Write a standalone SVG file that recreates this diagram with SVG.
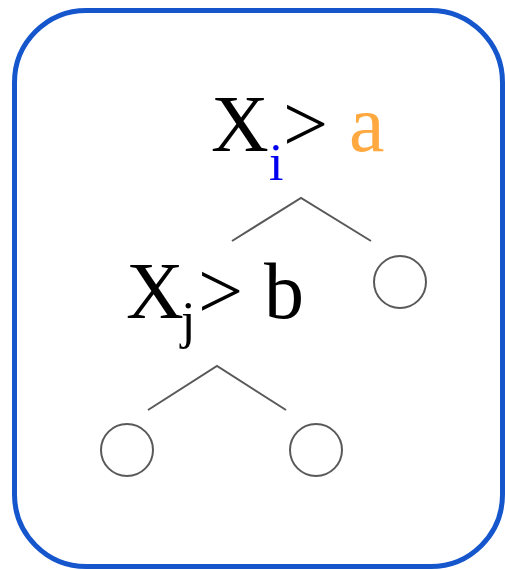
<svg xmlns="http://www.w3.org/2000/svg" width="505" height="570" viewBox="0 0 505 570">
<style>
.t{font-family:"Liberation Serif","Times New Roman",serif;font-size:80px;fill:#000}
.s{font-family:"Liberation Serif","Times New Roman",serif;font-size:52px}
.edge{stroke:#595959;stroke-width:2;fill:none}
.leaf{stroke:#595959;stroke-width:2;fill:#fff}
</style>
<rect x="14.5" y="10.5" width="488" height="556" rx="72" ry="72" fill="#fff" stroke="#1556cc" stroke-width="5"/>
<g id="connectors">
<polyline class="edge" points="232,241 301,198 371,241"/>
<polyline class="edge" points="148,410 217,366 286,410"/>
</g>
<g id="node-root">
<text class="t" x="211" y="151">X</text>
<text class="s" x="269" y="180" style="fill:#0000ee">i</text>
<text class="t" x="283" y="151">&gt;</text>
<text class="t" x="349" y="151" style="fill:#ffa940">a</text>
</g>
<g id="node-leaf1"><circle class="leaf" cx="400" cy="282" r="26"/></g>
<g id="node-inner">
<text class="t" x="126" y="318">X</text>
<text class="s" x="181" y="338">j</text>
<text class="t" x="198" y="318">&gt;</text>
<text class="t" x="264" y="318">b</text>
</g>
<g id="node-leaf2"><circle class="leaf" cx="127" cy="450" r="26"/></g>
<g id="node-leaf3"><circle class="leaf" cx="316" cy="450" r="26"/></g>
</svg>
